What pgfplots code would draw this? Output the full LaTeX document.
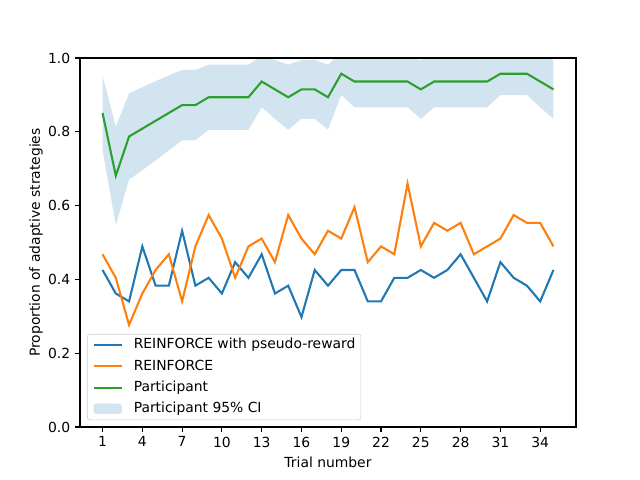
\documentclass[border=0pt]{standalone}
\usepackage{fontspec}
\setmainfont{DejaVu Sans}
\usepackage{pgfplots}
\pgfplotsset{compat=1.18}
\definecolor{tabblue}{HTML}{1F77B4}
\definecolor{taborange}{HTML}{FF7F0E}
\definecolor{tabgreen}{HTML}{2CA02C}
\definecolor{cifill}{HTML}{D2E4F0}
\begin{document}
\begin{tikzpicture}
\begin{axis}[
  at={(0pt,0pt)}, anchor=south west,
  scale only axis,
  axis on top,
  width=357.12pt, height=265.68pt,
  xmin=-0.7, xmax=36.7, ymin=0, ymax=1,
  xtick={1,4,...,34},
  ytick={0,0.2,0.4,0.6,0.8,1.0},
  tick pos=left,
  tick align=outside,
  major tick length=3.5pt,
  axis line style={line width=0.8pt},
  every tick/.style={black, line width=0.8pt},
  /pgf/number format/assume math mode=true,
  yticklabel style={/pgf/number format/fixed, /pgf/number format/fixed zerofill, /pgf/number format/precision=1},
  xlabel={Trial number},
  ylabel={Proportion of adaptive strategies},
  ylabel style={yshift=-3pt},
  legend cell align=left,
  legend style={at={(0.014,0.0188)}, anchor=south west, draw=black!20, rounded corners=2pt,
    fill=white, inner xsep=4pt, inner ysep=3pt, row sep=5.2pt,
    nodes={inner sep=0pt, text height=7.6pt, text depth=2.4pt},
    /tikz/every odd column/.append style={column sep=8pt}},
  legend image code/.code={\draw[#1] (0pt,0pt) -- (20pt,0pt);},
]
\addplot[fill=cifill, draw=none, forget plot] coordinates {
(1,0.9529) (2,0.8141) (3,0.9043) (4,0.9210) (5,0.9372) (6,0.9529) (7,0.9678) (8,0.9678)
(9,0.9818) (10,0.9818) (11,0.9818) (12,0.9818) (13,1.0061) (14,0.9947) (15,0.9818)
(16,0.9947) (17,0.9947) (18,0.9818) (19,1.0152) (20,1.0061) (21,1.0061) (22,1.0061)
(23,1.0061) (24,1.0061) (25,0.9947) (26,1.0061) (27,1.0061) (28,1.0061) (29,1.0061)
(30,1.0061) (31,1.0152) (32,1.0152) (33,1.0152) (34,1.0061) (35,0.9947)
(35,0.8351) (34,0.8663) (33,0.8997) (32,0.8997) (31,0.8997) (30,0.8663) (29,0.8663)
(28,0.8663) (27,0.8663) (26,0.8663) (25,0.8351) (24,0.8663) (23,0.8663) (22,0.8663)
(21,0.8663) (20,0.8663) (19,0.8997) (18,0.8055) (17,0.8351) (16,0.8351) (15,0.8055)
(14,0.8351) (13,0.8663) (12,0.8055) (11,0.8055) (10,0.8055) (9,0.8055) (8,0.7769)
(7,0.7769) (6,0.7493) (5,0.7224) (4,0.6960) (3,0.6702) (2,0.5476) (1,0.7493)} -- cycle;
\addplot[tabblue, line width=1.5pt] coordinates {
(1,0.4255) (2,0.3617) (3,0.3404) (4,0.4894) (5,0.3830) (6,0.3830) (7,0.5319) (8,0.3830)
(9,0.4043) (10,0.3617) (11,0.4468) (12,0.4043) (13,0.4681) (14,0.3617) (15,0.3830)
(16,0.2979) (17,0.4255) (18,0.3830) (19,0.4255) (20,0.4255) (21,0.3404) (22,0.3404)
(23,0.4043) (24,0.4043) (25,0.4255) (26,0.4043) (27,0.4255) (28,0.4681) (29,0.4043)
(30,0.3404) (31,0.4468) (32,0.4043) (33,0.3830) (34,0.3404) (35,0.4255)};
\addlegendentry{REINFORCE with pseudo-reward}
\addplot[taborange, line width=1.5pt] coordinates {
(1,0.4681) (2,0.4043) (3,0.2766) (4,0.3617) (5,0.4255) (6,0.4681) (7,0.3404) (8,0.4894)
(9,0.5745) (10,0.5106) (11,0.4043) (12,0.4894) (13,0.5106) (14,0.4468) (15,0.5745)
(16,0.5106) (17,0.4681) (18,0.5319) (19,0.5106) (20,0.5957) (21,0.4468) (22,0.4894)
(23,0.4681) (24,0.6596) (25,0.4894) (26,0.5532) (27,0.5319) (28,0.5532) (29,0.4681)
(30,0.4894) (31,0.5106) (32,0.5745) (33,0.5532) (34,0.5532) (35,0.4894)};
\addlegendentry{REINFORCE}
\addplot[tabgreen, line width=1.5pt] coordinates {
(1,0.8511) (2,0.6809) (3,0.7872) (4,0.8085) (5,0.8298) (6,0.8511) (7,0.8723) (8,0.8723)
(9,0.8936) (10,0.8936) (11,0.8936) (12,0.8936) (13,0.9362) (14,0.9149) (15,0.8936)
(16,0.9149) (17,0.9149) (18,0.8936) (19,0.9574) (20,0.9362) (21,0.9362) (22,0.9362)
(23,0.9362) (24,0.9362) (25,0.9149) (26,0.9362) (27,0.9362) (28,0.9362) (29,0.9362)
(30,0.9362) (31,0.9574) (32,0.9574) (33,0.9574) (34,0.9362) (35,0.9149)};
\addlegendentry{Participant}
\addlegendimage{legend image code/.code={\fill[cifill] (0pt,-3.5pt) rectangle (20pt,3.5pt);}}
\addlegendentry{Participant 95\% CI}
\end{axis}
\path (-57.6pt,-38.16pt) rectangle (403.2pt,307.44pt);
\end{tikzpicture}
\end{document}
